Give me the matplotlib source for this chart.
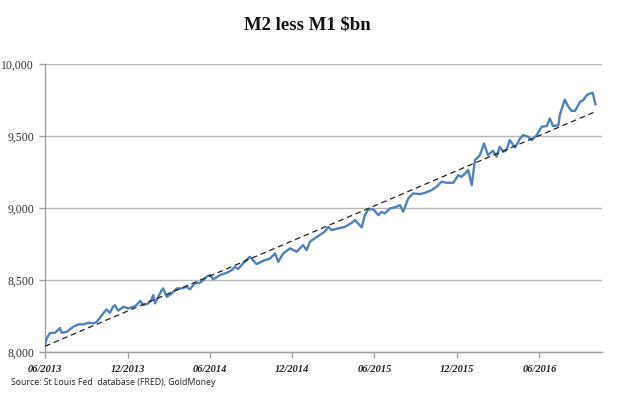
import numpy as np
import pandas as pd
import matplotlib
matplotlib.use('Agg')
import matplotlib.pyplot as plt
import matplotlib.dates as mdates
from matplotlib.ticker import FuncFormatter

# M2 less M1, $bn; x = days after 1 June 2013
days_since_jun2013 = [
    0, 4, 11, 22, 29, 33, 37, 48, 63, 74, 85, 96, 107, 115, 129, 136, 144, 151,
    155, 162, 174, 185, 196, 203, 211, 218, 229, 236, 240, 244, 251, 259, 262,
    270, 281, 292, 303, 314, 321, 332, 343, 351, 358, 366, 373, 388, 403, 414,
    421, 428, 439, 454, 469, 484, 499, 510, 517, 528, 543, 558, 572, 580, 587,
    598, 609, 620, 628, 635, 650, 665, 680, 687, 702, 709, 716, 728, 739, 746,
    753, 765, 779, 787, 794, 805, 816, 831, 842, 857, 868, 879, 890, 905, 916,
    923, 931, 938, 946, 953, 964, 973, 982, 993, 1001, 1008, 1016, 1023, 1030,
    1042, 1053, 1060, 1071, 1079, 1090, 1101, 1112, 1119, 1126, 1138, 1141,
    1152, 1160, 1167, 1175, 1186, 1193, 1201, 1208, 1214, 1220]
m2_less_m1 = [
    8049, 8097, 8132, 8134, 8153, 8167, 8134, 8140, 8176, 8192, 8192, 8204,
    8199, 8211, 8268, 8296, 8273, 8315, 8326, 8287, 8315, 8303, 8315, 8326,
    8356, 8326, 8338, 8365, 8396, 8338, 8384, 8431, 8442, 8384, 8407, 8442,
    8442, 8454, 8436, 8477, 8481, 8500, 8523, 8535, 8505, 8535, 8551, 8569,
    8592, 8577, 8616, 8662, 8611, 8634, 8650, 8685, 8627, 8685, 8720, 8697,
    8743, 8708, 8766, 8790, 8813, 8836, 8870, 8847, 8859, 8870, 8898, 8917,
    8866, 8951, 8991, 8991, 8951, 8974, 8963, 8998, 9009, 9021, 8974, 9067,
    9102, 9097, 9106, 9125, 9148, 9183, 9176, 9176, 9229, 9217, 9240, 9264,
    9160, 9333, 9368, 9449, 9368, 9398, 9357, 9426, 9391, 9403, 9472, 9421,
    9484, 9507, 9495, 9472, 9507, 9565, 9570, 9623, 9570, 9575, 9646, 9754,
    9704, 9676, 9676, 9738, 9750, 9785, 9796, 9801, 9722]

# dashed linear trend, start and end values
trend_values = [8040, 9670]

start = pd.Timestamp('2013-06-01')
dates = start + pd.to_timedelta(days_since_jun2013, unit='D')

fig = plt.figure(figsize=(6.31, 3.96), dpi=100)
ax = fig.add_axes([0.0713, 0.111, 0.8823, 0.727])

ax.plot(dates, m2_less_m1, color='#4f81bd', lw=1.7, solid_joinstyle='round', zorder=3)
ax.plot([dates[0], dates[-1]], trend_values, color='#222222', lw=0.9,
        ls=(0, (4.5, 3)), zorder=4)

ax.set_ylim(8000, 10000)
ax.set_xlim(start, start + pd.Timedelta(days=1234))
ax.set_yticks([8000, 8500, 9000, 9500, 10000])
ax.yaxis.set_major_formatter(FuncFormatter(lambda v, p: f'{v:,.0f}'))
ax.xaxis.set_major_locator(mdates.MonthLocator(bymonth=[6, 12]))
ax.xaxis.set_major_formatter(mdates.DateFormatter('%m/%Y'))

ax.grid(axis='y', color='#b8b8b8', lw=1.0)
ax.set_axisbelow(True)
for s in ['top', 'right']:
    ax.spines[s].set_visible(False)
for s in ['left', 'bottom']:
    ax.spines[s].set_color('#a0a0a0')
    ax.spines[s].set_linewidth(1.0)
ax.tick_params(axis='both', color='#a0a0a0', length=4, width=1)
ax.tick_params(axis='x', direction='out', pad=5)
ax.tick_params(axis='y', direction='out', pad=4)

for lbl in ax.get_yticklabels():
    lbl.set_fontfamily('Liberation Serif')
    lbl.set_fontsize(8.5)
    lbl.set_color('#333333')
for lbl in ax.get_xticklabels():
    lbl.set_fontfamily('Liberation Serif')
    lbl.set_fontsize(7.5)
    lbl.set_fontweight('bold')
    lbl.set_fontstyle('italic')
    lbl.set_color('#222222')

fig.text(0.487, 0.937, r'M2 less M1 \$bn', ha='center', va='center',
         fontfamily='Liberation Serif', fontweight='bold', fontsize=13.5,
         color='#111111')
fig.text(0.018, 0.033, 'Source: St Louis Fed  database (FRED), GoldMoney',
         ha='left', va='center', fontfamily='Open Sans', fontsize=6.3,
         color='#222222')

fig.savefig('out.png', dpi=100)
